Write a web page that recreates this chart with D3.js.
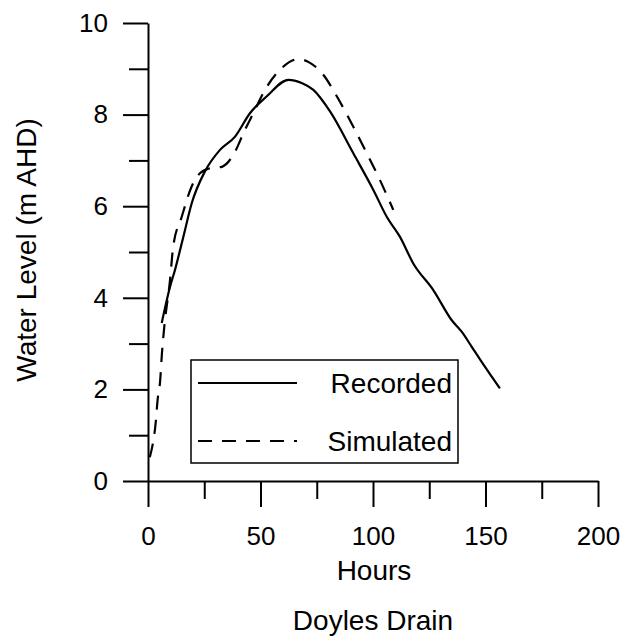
<!DOCTYPE html>
<html>
<head>
<meta charset="utf-8">
<script src="https://cdn.jsdelivr.net/npm/d3@7"></script>
<style>
  body { margin: 0; background: #fff; }
  text { font-family: "Liberation Sans", Arial, sans-serif; fill: #000; }
</style>
</head>
<body>
<script>
// data
const recordedHours = [6.1, 9.8, 12, 15.7, 19.4, 25.3, 32, 38.7, 45.3, 52.8, 62.4, 68.3, 73.5, 80.9, 91.2, 100.1, 106.1, 112, 117.9, 126.8, 135, 139.4, 143.9, 149.8, 156.4];
const recordedLevel = [3.45, 4.24, 4.61, 5.33, 6.06, 6.76, 7.23, 7.52, 8.03, 8.40, 8.76, 8.69, 8.54, 8.07, 7.16, 6.36, 5.77, 5.33, 4.75, 4.17, 3.51, 3.26, 2.93, 2.49, 2.02];

const simulatedHours = [0.8, 2.2, 3.2, 4.4, 5.3, 6.2, 7.2, 9.8, 11.2, 15.0, 19.4, 23.1, 27.6, 32.8, 37.9, 43.1, 46.8, 52.0, 58.7, 66.8, 72.0, 77.9, 83.9, 91.2, 97.2, 103.1, 109.0];
const simulatedLevel = [0.52, 0.83, 1.17, 1.83, 2.13, 2.79, 3.35, 4.39, 5.12, 5.77, 6.43, 6.72, 6.83, 6.86, 7.12, 7.67, 8.03, 8.54, 8.98, 9.21, 9.13, 8.87, 8.40, 7.74, 7.16, 6.57, 5.92];

const xMajor = [0, 50, 100, 150, 200];
const xMinor = [25, 75, 125, 175];
const yMajor = [0, 2, 4, 6, 8, 10];
const yMinor = [1, 3, 5, 7, 9];

const legendNames = ["Recorded", "Simulated"];
const legendDash = [null, "14,10"];

const width = 630;
const height = 641;

const svg = d3.select("body")
  .append("svg")
  .attr("width", width)
  .attr("height", height);

const x = d3.scaleLinear().domain([0, 200]).range([148, 598]);
const y = d3.scaleLinear().domain([0, 10]).range([481, 23]);

// axes
function styleAxis(g) {
  g.selectAll("path, line").attr("stroke", "#000").attr("stroke-width", 2);
  g.selectAll("text").style("font-size", "26px").attr("fill", "#000");
}

svg.append("g")
  .attr("transform", `translate(0, ${y(0)})`)
  .call(d3.axisBottom(x).tickValues(xMajor).tickSize(26).tickSizeOuter(0).tickPadding(20))
  .call(styleAxis);

svg.append("g")
  .attr("transform", `translate(0, ${y(0)})`)
  .call(d3.axisBottom(x).tickValues(xMinor).tickSize(18).tickFormat("").tickSizeOuter(0))
  .call(g => g.select(".domain").remove())
  .call(styleAxis);

svg.append("g")
  .attr("transform", `translate(${x(0)}, 0)`)
  .call(d3.axisLeft(y).tickValues(yMajor).tickSize(25).tickSizeOuter(0).tickPadding(15))
  .call(styleAxis);

svg.append("g")
  .attr("transform", `translate(${x(0)}, 0)`)
  .call(d3.axisLeft(y).tickValues(yMinor).tickSize(19).tickFormat("").tickSizeOuter(0))
  .call(g => g.select(".domain").remove())
  .call(styleAxis);

// axis titles
svg.append("text")
  .attr("x", 374)
  .attr("y", 580)
  .attr("text-anchor", "middle")
  .style("font-size", "28px")
  .text("Hours");

svg.append("text")
  .attr("x", 373)
  .attr("y", 630)
  .attr("text-anchor", "middle")
  .style("font-size", "28px")
  .text("Doyles Drain");

svg.append("text")
  .attr("transform", "translate(36, 250) rotate(-90)")
  .attr("text-anchor", "middle")
  .style("font-size", "28px")
  .text("Water Level (m AHD)");

// lines
const line = d3.line()
  .x(d => x(d[0]))
  .y(d => y(d[1]))
  .curve(d3.curveMonotoneX);

const recorded = recordedHours.map((h, i) => [h, recordedLevel[i]]);
const simulated = simulatedHours.map((h, i) => [h, simulatedLevel[i]]);

svg.append("path")
  .datum(simulated)
  .attr("fill", "none")
  .attr("stroke", "#000")
  .attr("stroke-width", 2.2)
  .attr("stroke-dasharray", legendDash[1])
  .attr("d", line);

svg.append("path")
  .datum(recorded)
  .attr("fill", "none")
  .attr("stroke", "#000")
  .attr("stroke-width", 2.2)
  .attr("d", line);

// legend
const legend = svg.append("g").attr("transform", "translate(191, 360)");

legend.append("rect")
  .attr("width", 267)
  .attr("height", 103)
  .attr("fill", "#fff")
  .attr("stroke", "#000")
  .attr("stroke-width", 1.5);

const items = legend.selectAll("g.item")
  .data(legendNames)
  .enter()
  .append("g")
  .attr("class", "item")
  .attr("transform", (d, i) => `translate(0, ${23 + i * 58})`);

items.append("line")
  .attr("x1", 7)
  .attr("x2", 106)
  .attr("stroke", "#000")
  .attr("stroke-width", 2.2)
  .attr("stroke-dasharray", (d, i) => legendDash[i]);

items.append("text")
  .attr("x", 261)
  .attr("dy", "0.35em")
  .attr("text-anchor", "end")
  .style("font-size", "28px")
  .text(d => d);
</script>
</body>
</html>
